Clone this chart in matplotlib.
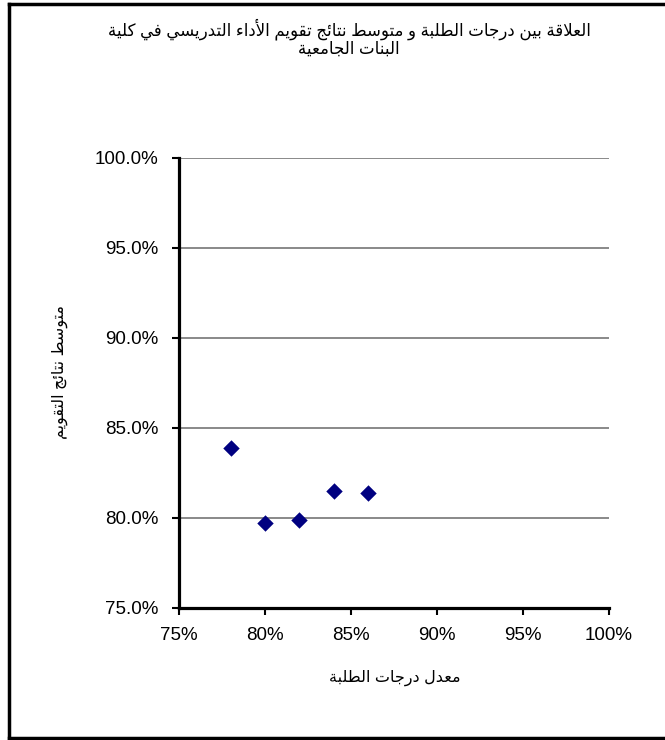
import matplotlib
matplotlib.use("Agg")
import matplotlib.pyplot as plt
from matplotlib.lines import Line2D
from matplotlib.ticker import FuncFormatter

# data
student_grades = [78.0, 80.0, 82.0, 84.0, 86.0]
eval_results = [83.9, 79.7, 79.9, 81.5, 81.4]
x_ticks = [75, 80, 85, 90, 95, 100]
y_ticks = [75, 80, 85, 90, 95, 100]

title_line1 = "العلاقة بين درجات الطلبة و متوسط نتائج تقويم الأداء التدريسي في كلية"
title_line2 = "البنات الجامعية"
x_label = "معدل درجات الطلبة"
y_label = "متوسط نتائج التقويم"

# matplotlib has no Arabic shaping, so pick the presentation forms by hand
# (isolated, final, initial, medial)
FORMS = {
    "ء": ("\uFE80", None, None, None),
    "أ": ("\uFE83", "\uFE84", None, None),
    "ا": ("\uFE8D", "\uFE8E", None, None),
    "ب": ("\uFE8F", "\uFE90", "\uFE91", "\uFE92"),
    "ة": ("\uFE93", "\uFE94", None, None),
    "ت": ("\uFE95", "\uFE96", "\uFE97", "\uFE98"),
    "ئ": ("\uFE89", "\uFE8A", "\uFE8B", "\uFE8C"),
    "ج": ("\uFE9D", "\uFE9E", "\uFE9F", "\uFEA0"),
    "د": ("\uFEA9", "\uFEAA", None, None),
    "ر": ("\uFEAD", "\uFEAE", None, None),
    "س": ("\uFEB1", "\uFEB2", "\uFEB3", "\uFEB4"),
    "ط": ("\uFEC1", "\uFEC2", "\uFEC3", "\uFEC4"),
    "ع": ("\uFEC9", "\uFECA", "\uFECB", "\uFECC"),
    "ف": ("\uFED1", "\uFED2", "\uFED3", "\uFED4"),
    "ق": ("\uFED5", "\uFED6", "\uFED7", "\uFED8"),
    "ك": ("\uFED9", "\uFEDA", "\uFEDB", "\uFEDC"),
    "ل": ("\uFEDD", "\uFEDE", "\uFEDF", "\uFEE0"),
    "م": ("\uFEE1", "\uFEE2", "\uFEE3", "\uFEE4"),
    "ن": ("\uFEE5", "\uFEE6", "\uFEE7", "\uFEE8"),
    "و": ("\uFEED", "\uFEEE", None, None),
    "ي": ("\uFEF1", "\uFEF2", "\uFEF3", "\uFEF4"),
    "لا": ("\uFEFB", "\uFEFC", None, None),
    "لأ": ("\uFEF7", "\uFEF8", None, None),
}


def joins_prev(tok):
    return tok in FORMS and FORMS[tok][1] is not None


def joins_next(tok):
    return tok in FORMS and FORMS[tok][2] is not None


def shape(text):
    toks = []
    i = 0
    while i < len(text):
        if text[i] == "ل" and i + 1 < len(text) and text[i + 1] in "اأ":
            toks.append(text[i:i + 2])
            i += 2
        else:
            toks.append(text[i])
            i += 1
    out = []
    for k, t in enumerate(toks):
        if t not in FORMS:
            out.append(t)
            continue
        p = k > 0 and joins_next(toks[k - 1]) and joins_prev(t)
        n = k < len(toks) - 1 and joins_next(t) and joins_prev(toks[k + 1])
        iso, fin, ini, med = FORMS[t]
        if p and n:
            out.append(med)
        elif p:
            out.append(fin)
        elif n:
            out.append(ini)
        else:
            out.append(iso)
    return "".join(out)[::-1]


fam = ["Liberation Sans", "DejaVu Sans"]
plt.rcParams["font.family"] = fam

fig = plt.figure(figsize=(6.65, 7.40), dpi=100)
ax = fig.add_axes([179 / 665, 1 - 608 / 740, 430 / 665, 450 / 740])

ax.scatter(student_grades, eval_results, marker="D", s=70, color="#000080",
           zorder=3, linewidths=0)

ax.set_xlim(75, 100)
ax.set_ylim(75, 100)
ax.set_xticks(x_ticks)
ax.set_yticks(y_ticks)
ax.xaxis.set_major_formatter(FuncFormatter(lambda v, _: "%d%%" % v))
ax.yaxis.set_major_formatter(FuncFormatter(lambda v, _: "%.1f%%" % v))
ax.tick_params(labelsize=13.5, direction="out", length=5, width=1.5)
ax.tick_params(axis="y", pad=10)
ax.tick_params(axis="x", pad=9)
ax.grid(axis="y", color="#6a6a6a", linewidth=1.1)
ax.set_axisbelow(True)

for side in ["top", "right"]:
    ax.spines[side].set_visible(False)
for side in ["left", "bottom"]:
    ax.spines[side].set_linewidth(2.3)
    ax.spines[side].set_color("black")

fig.text(349 / 665, 1 - 29 / 740, shape(title_line1), ha="center", va="center",
         fontsize=12, family=fam)
fig.text(349 / 665, 1 - 49 / 740, shape(title_line2), ha="center", va="center",
         fontsize=12, family=fam)
fig.text(395 / 665, 1 - 678 / 740, shape(x_label), ha="center", va="center",
         fontsize=11.5, family=fam)
fig.text(60 / 665, 1 - 372 / 740, shape(y_label), ha="center", va="center",
         rotation=90, fontsize=11.5, family=fam)

# outer chart frame: left, top and bottom only, the right side is cut off
fx0, fy0, fy1 = 9 / 665, 1 - 738 / 740, 1 - 4 / 740
for xs, ys in [([fx0, fx0], [fy0, fy1]), ([fx0, 1.0], [fy1, fy1]),
               ([fx0, 1.0], [fy0, fy0])]:
    fig.add_artist(Line2D(xs, ys, transform=fig.transFigure, color="black",
                          linewidth=2.5, solid_capstyle="projecting"))

fig.savefig("out.png", dpi=100)
